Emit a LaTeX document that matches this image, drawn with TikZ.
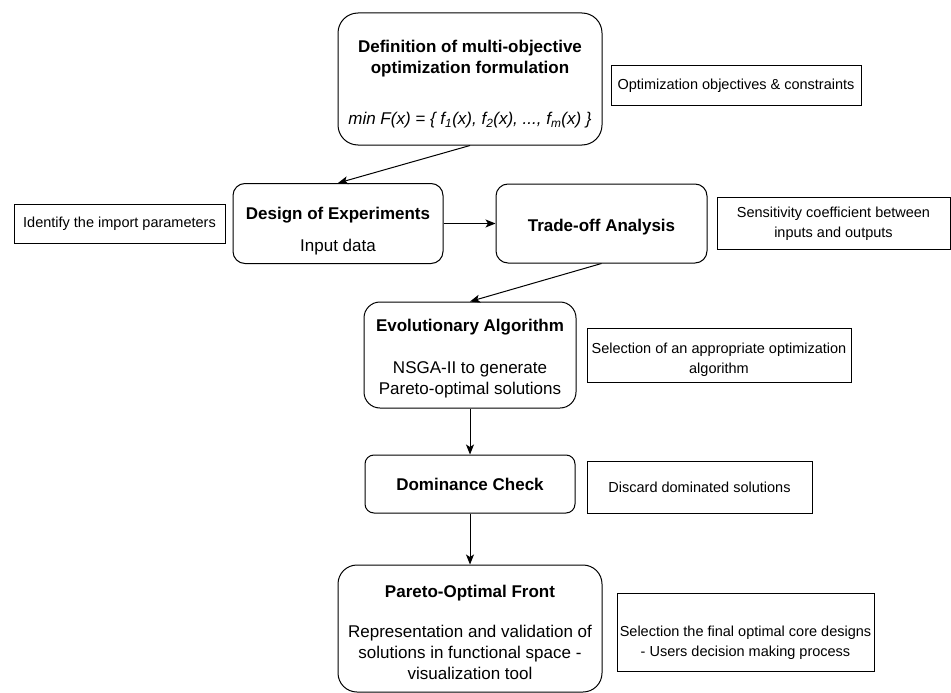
\documentclass[tikz,border=0pt]{standalone}
\usepackage{fontspec}
\setmainfont{Liberation Sans}
\usetikzlibrary{arrows.meta}
\tikzset{
  mainbox/.style={draw, line width=1pt, align=center, inner sep=0pt,
    font=\fontsize{17}{21}\selectfont},
  sidebox/.style={draw, line width=1pt, align=center, inner sep=0pt,
    font=\fontsize{14.5}{20}\selectfont},
  sidetext/.style={align=center, inner sep=0pt,
    font=\fontsize{14.5}{20}\selectfont},
  arr/.style={-{Stealth[length=10pt,width=8pt,inset=2.5pt]}, line width=1pt}
}
\newcommand{\lift}[1]{\rule{0pt}{#1}}
\begin{document}
\begin{tikzpicture}[x=1pt,y=-1pt]
\useasboundingbox[fill=white] (0,0) rectangle (951,693);

% main boxes
\node[mainbox, rounded corners=20pt, minimum width=264pt, minimum height=132pt] (b1) at (470,79)
  {\lift{22.5pt}\textbf{Definition of multi-objective}\\\textbf{optimization formulation}\\[30pt]
   \textit{min F(x) = \{ f\textsubscript{1}(x), f\textsubscript{2}(x), ..., f\textsubscript{m}(x) \}}};
\node[mainbox, rounded corners=12pt, minimum width=210pt, minimum height=80pt] (b2) at (338,223.5)
  {\lift{28.5pt}\textbf{Design of Experiments}\\[11pt]Input data};
\node[mainbox, rounded corners=12pt, minimum width=211pt, minimum height=79pt] (b3) at (601.5,223.5)
  {\lift{20.5pt}\textbf{Trade-off Analysis}};
\node[mainbox, rounded corners=16pt, minimum width=212pt, minimum height=106pt] (b4) at (470,355)
  {\lift{20.5pt}\textbf{Evolutionary Algorithm}\\[21pt]NSGA-II to generate\\Pareto-optimal solutions};
\node[mainbox, rounded corners=9pt, minimum width=210pt, minimum height=58pt] (b5) at (470,484)
  {\textbf{Dominance Check}};
\node[mainbox, rounded corners=19pt, minimum width=264pt, minimum height=127pt] (b6) at (470,628.5)
  {\lift{19.5pt}\textbf{Pareto-Optimal Front}\\[19pt]Representation and validation of\\solutions in functional space -\\visualization tool};

% side boxes
\node[sidebox, minimum width=250pt, minimum height=39pt] (s1) at (736,85.5)
  {Optimization objectives \& constraints};
\node[sidebox, minimum width=211pt, minimum height=39pt] (s2) at (119.5,223.5)
  {Identify the import parameters};
\node[sidebox, minimum width=233pt, minimum height=52pt] (s3) at (833.5,223)
  {\lift{13pt}Sensitivity coefficient between\\inputs and outputs};
\node[sidebox, minimum width=264pt, minimum height=54pt] (s4) at (719,355)
  {\lift{20.5pt}Selection of an appropriate optimization\\algorithm};
\node[sidebox, minimum width=225pt, minimum height=52pt] (s5) at (699.5,487)
  {Discard dominated solutions};
\node[sidebox, minimum width=257pt, minimum height=78pt] (s6) at (745.5,632) {};
\node[sidetext] (s6t) at (745.5,643)
  {Selection the final optimal core designs\\- Users decision making process};

% connectors
\draw[arr] (b1.south) -- (b2.north);
\draw[arr] (b2.east) -- (b3.west);
\draw[arr] (b3.south) -- (b4.north);
\draw[arr] (b4.south) -- (b5.north);
\draw[arr] (b5.south) -- (b6.north);
\end{tikzpicture}
\end{document}
